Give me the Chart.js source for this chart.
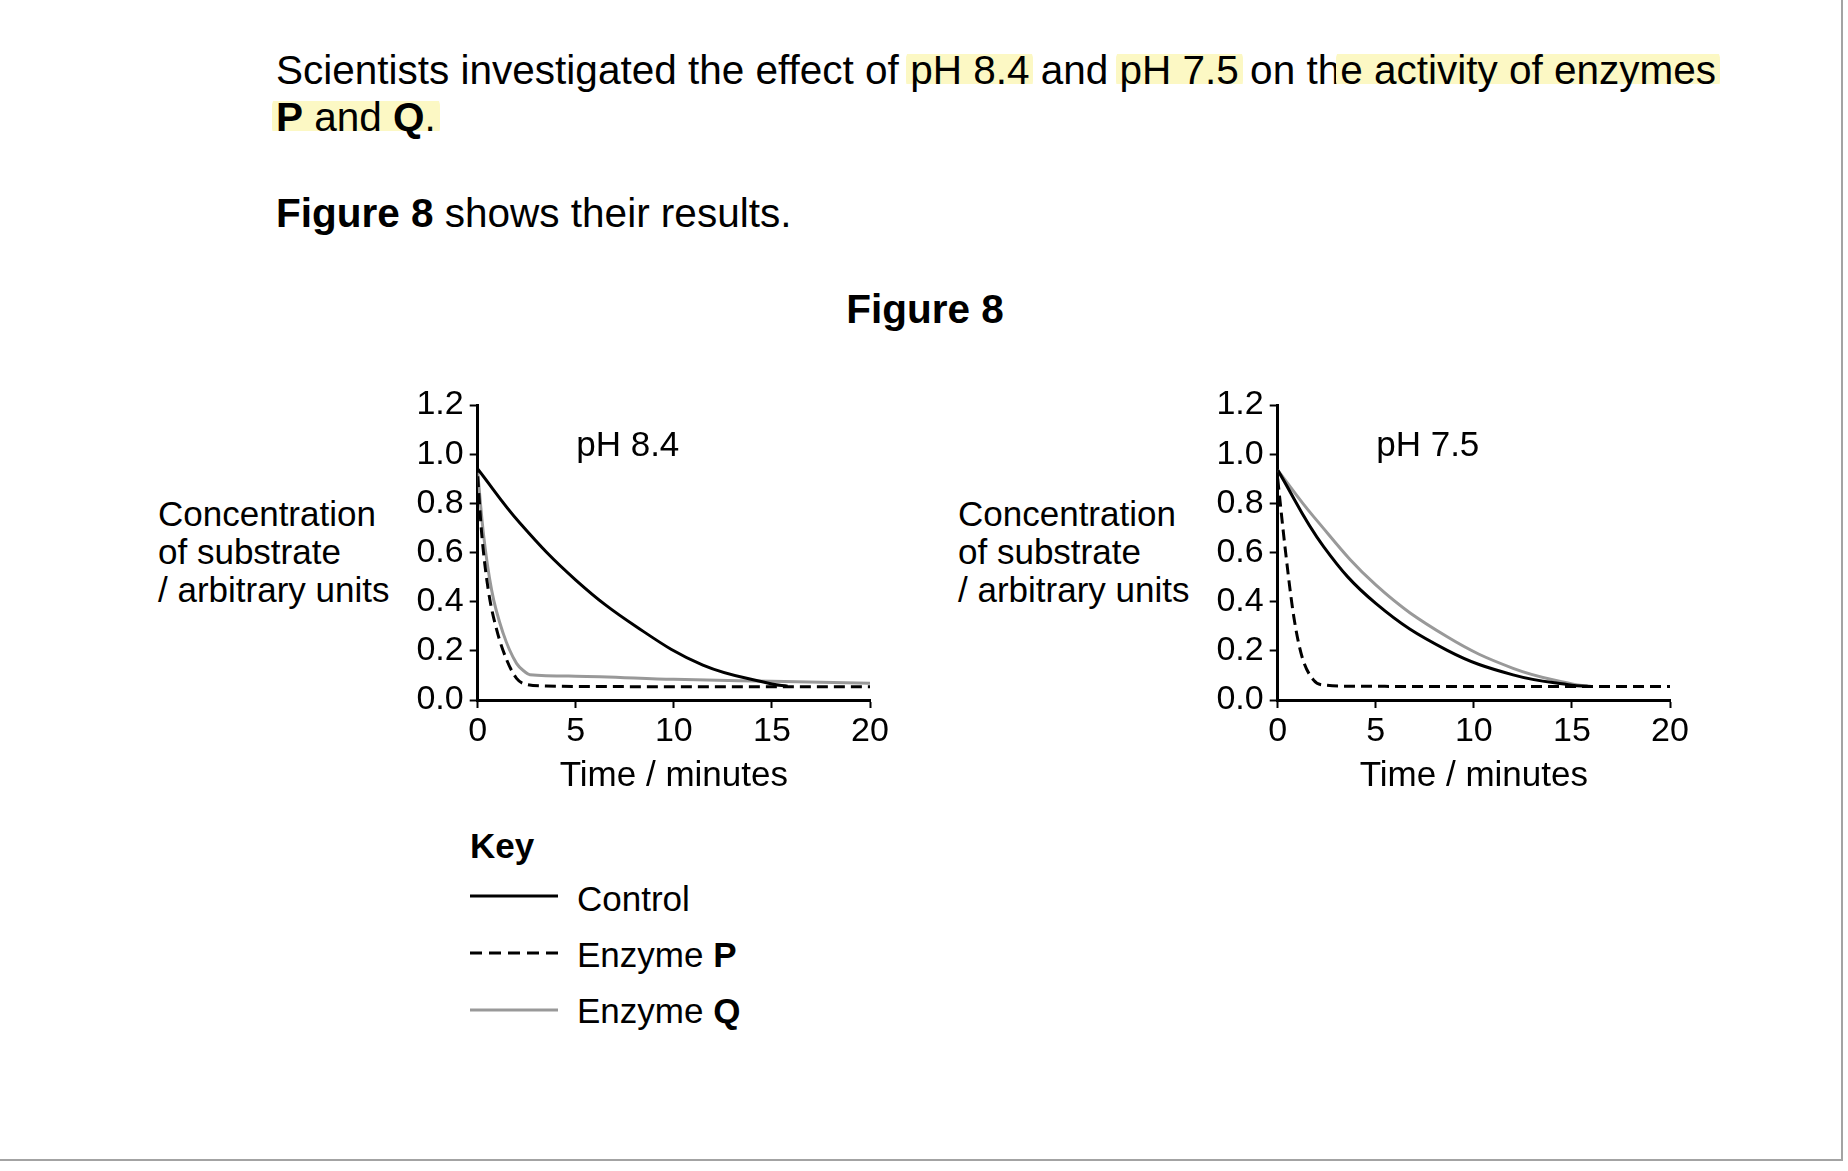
<!DOCTYPE html>
<html>
<head>
<meta charset="utf-8">
<script src="https://cdn.jsdelivr.net/npm/chart.js@4.4.1/dist/chart.umd.min.js"></script>
<style>
  body { margin: 0; background: #fff; font-family: "Liberation Sans", Arial, sans-serif; color: #000; }
  #page { position: relative; width: 1848px; height: 1171px; overflow: hidden; }
  .frame { position: absolute; left: 0; top: 0; width: 1841px; height: 1159px; border-right: 2px solid #a3a3a3; border-bottom: 2px solid #a3a3a3; }
  .txt { position: absolute; font-size: 40.5px; line-height: 47px; white-space: nowrap; }
  .hl { background: linear-gradient(transparent 16%, #fcf8c4 16%, #fcf8c4 80%, transparent 80%); border-radius: 12px; padding: 0 4px; margin: 0 -4px; }
  .ytitle { position: absolute; font-size: 35px; line-height: 38px; white-space: nowrap; }
  canvas { position: absolute; }
  .key { position: absolute; font-size: 35px; line-height: 42px; white-space: nowrap; }
  .keyline { position: absolute; left: 470px; width: 88px; height: 4px; }
</style>
</head>
<body>
<div id="page">
  <div class="frame"></div>

  <div class="txt" style="left:276px; top:47px;">Scientists investigated the effect of <span class="hl">pH 8.4</span> and <span class="hl">pH 7.5</span> on th<span class="hl">e activity of enzymes</span><br><span class="hl"><b>P</b> and <b>Q</b>.</span></div>
  <div class="txt" style="left:276px; top:190px;"><b>Figure 8</b> shows their results.</div>
  <div class="txt" style="left:925px; top:286px; transform:translateX(-50%);"><b>Figure 8</b></div>

  <div class="ytitle" style="left:158px; top:495px;">Concentration<br>of substrate<br>/ arbitrary units</div>
  <div class="ytitle" style="left:958px; top:495px;">Concentration<br>of substrate<br>/ arbitrary units</div>

  <canvas id="chart84" width="600" height="450" style="left:330px; top:370px;"></canvas>
  <canvas id="chart75" width="600" height="450" style="left:1130px; top:370px;"></canvas>

  <div class="key" style="left:470px; top:825px;"><b>Key</b></div>
  <svg class="keyline" style="top:894px;" viewBox="0 0 88 4"><line x1="0" y1="2" x2="88" y2="2" stroke="#000" stroke-width="3"/></svg>
  <svg class="keyline" style="top:951px;" viewBox="0 0 88 4"><line x1="0" y1="2" x2="88" y2="2" stroke="#000" stroke-width="3" stroke-dasharray="12 7"/></svg>
  <svg class="keyline" style="top:1008px;" viewBox="0 0 88 4"><line x1="0" y1="2" x2="88" y2="2" stroke="#999" stroke-width="3"/></svg>
  <div class="key" style="left:577px; top:878px;">Control</div>
  <div class="key" style="left:577px; top:934px;">Enzyme <b>P</b></div>
  <div class="key" style="left:577px; top:990px;">Enzyme <b>Q</b></div>
</div>

<script>
// time (minutes) and substrate concentration
const xTicks = [0, 5, 10, 15, 20]
const yTicks = [0, 0.2, 0.4, 0.6, 0.8, 1.0, 1.2]

// pH 8.4
const controlTime84 = [0, 2.15, 5, 8.09, 11.48, 15, 15.8]
const control84 = [0.94, 0.72, 0.488, 0.298, 0.142, 0.065, 0.056]
const enzPTime84 = [0, 0.2, 0.54, 0.97, 1.48, 1.98, 2.41, 3.5, 6, 10, 15, 20]
const enzP84 = [0.91, 0.68, 0.447, 0.285, 0.163, 0.088, 0.065, 0.057, 0.055, 0.054, 0.054, 0.054]
const enzQTime84 = [0, 0.29, 0.71, 1.3, 1.98, 2.4, 2.66, 5, 10, 15, 20]
const enzQ84 = [0.925, 0.678, 0.447, 0.271, 0.149, 0.115, 0.103, 0.097, 0.084, 0.076, 0.068]

// pH 7.5
const controlTime75 = [0, 2.34, 5, 8.62, 12, 15, 15.8]
const control75 = [0.935, 0.624, 0.393, 0.203, 0.102, 0.060, 0.056]
const enzPTime75 = [0, 0.39, 0.82, 1.24, 1.83, 2.34, 4, 10, 20]
const enzP75 = [0.9, 0.61, 0.339, 0.176, 0.081, 0.061, 0.056, 0.055, 0.055]
const enzQTime75 = [0, 1.83, 5, 8.62, 12, 15, 16]
const enzQ75 = [0.935, 0.746, 0.468, 0.258, 0.129, 0.065, 0.055]

const FONT = "'Liberation Sans', Arial, sans-serif"

function pts(xs, ys) {
    return xs.map((x, i) => ({ x, y: ys[i] }))
}

const phLabel = {
    id: "phLabel",
    afterDraw(chart, args, opts) {
        const { ctx, scales } = chart
        ctx.save()
        ctx.font = `35px ${FONT}`
        ctx.fillStyle = "#000"
        ctx.textAlign = "center"
        ctx.textBaseline = "middle"
        ctx.fillText(opts.text, scales.x.getPixelForValue(7.65), scales.y.getPixelForValue(1.033))
        ctx.restore()
    }
}

function makeChart(id, label, control, enzP, enzQ, smoothQ) {
    const line = { pointRadius: 0, borderWidth: 3, fill: false }
    const smooth = { ...line, tension: 0.4 }
    const sharp = { ...line, cubicInterpolationMode: "monotone" }
    new Chart(document.getElementById(id), {
        type: "line",
        data: {
            datasets: [
                { ...smooth, label: "Control", data: control, borderColor: "#000" },
                { ...sharp, label: "Enzyme P", data: enzP, borderColor: "#000", borderDash: [11, 6] },
                { ...(smoothQ ? smooth : sharp), label: "Enzyme Q", data: enzQ, borderColor: "#999" }
            ]
        },
        options: {
            responsive: false,
            animation: false,
            layout: { padding: { left: 0, right: 60, top: 35, bottom: 20 } },
            plugins: {
                legend: { display: false },
                tooltip: { enabled: false },
                phLabel: { text: label }
            },
            scales: {
                x: {
                    type: "linear",
                    min: 0,
                    max: 20,
                    afterBuildTicks: s => { s.ticks = xTicks.map(v => ({ value: v })) },
                    afterFit: s => { s.height = 100 },
                    grid: { drawOnChartArea: false, drawTicks: true, tickLength: 8, tickWidth: 2, tickColor: "#000" },
                    border: { display: true, color: "#000", width: 3 },
                    ticks: { color: "#000", padding: 3, maxRotation: 0, autoSkip: false, font: { family: FONT, size: 34, lineHeight: 1.2 } },
                    title: { display: true, text: "Time / minutes", color: "#000", padding: { top: 0, bottom: 3 }, font: { family: FONT, size: 35, lineHeight: 1.2 } }
                },
                y: {
                    min: 0,
                    max: 1.2,
                    afterBuildTicks: s => { s.ticks = yTicks.map(v => ({ value: v })) },
                    afterFit: s => { s.width = 147.7 },
                    grid: { drawOnChartArea: false, drawTicks: true, tickLength: 8, tickWidth: 2, tickColor: "#000" },
                    border: { display: true, color: "#000", width: 3 },
                    ticks: { color: "#000", padding: 6, autoSkip: false, font: { family: FONT, size: 34, lineHeight: 1.2 }, callback: v => v.toFixed(1) }
                }
            }
        },
        plugins: [phLabel]
    })
}

makeChart("chart84", "pH 8.4", pts(controlTime84, control84), pts(enzPTime84, enzP84), pts(enzQTime84, enzQ84), false)
makeChart("chart75", "pH 7.5", pts(controlTime75, control75), pts(enzPTime75, enzP75), pts(enzQTime75, enzQ75), true)
</script>
</body>
</html>
